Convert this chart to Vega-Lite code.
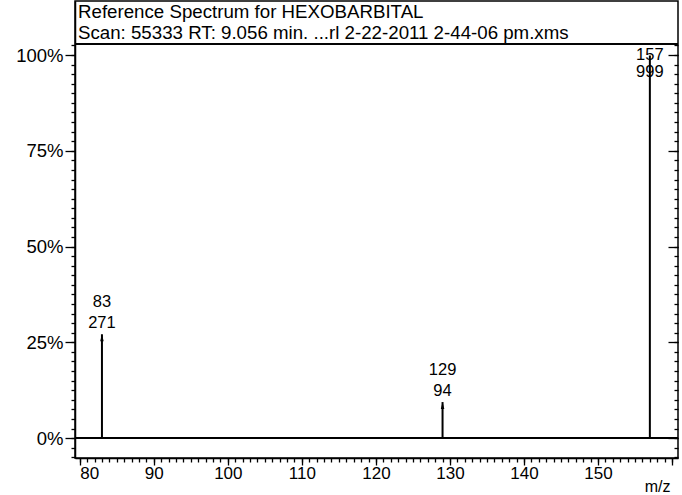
{
  "$schema": "https://vega.github.io/schema/vega-lite/v6.json",
  "width": 603,
  "height": 457,
  "autosize": {"type": "none"},
  "padding": {"left": 75, "top": 1, "right": 4, "bottom": 37},
  "background": "white",
  "config": {
    "font": "Liberation Sans",
    "view": {"stroke": "black", "strokeWidth": 1.5},
    "axis": {
      "domainColor": "black",
      "domainWidth": 1.5,
      "tickColor": "black",
      "tickWidth": 1.3,
      "labelColor": "black",
      "labelFont": "Liberation Sans",
      "titleFont": "Liberation Sans",
      "grid": false,
      "labelOverlap": false
    }
  },
  "data": {
    "values": [
      {"mz": 83, "abundance": 271},
      {"mz": 129, "abundance": 94},
      {"mz": 157, "abundance": 999}
    ]
  },
  "resolve": {
    "scale": {"x": "shared", "y": "shared"},
    "axis": {"x": "independent", "y": "independent"}
  },
  "layer": [
    {
      "mark": {"type": "rule", "color": "black", "strokeWidth": 2},
      "encoding": {
        "x": {
          "field": "mz",
          "type": "quantitative",
          "scale": {"domain": [79.36, 160.8], "nice": false, "zero": false},
          "axis": {
            "orient": "bottom",
            "values": [80, 90, 100, 110, 120, 130, 140, 150, 160],
            "format": "d",
            "labelExpr": "datum.value == 160 ? '' : datum.label",
            "tickSize": 7,
            "labelPadding": 0,
            "labelFontSize": 17,
            "labelFlush": 6,
            "title": "m/z",
            "titleFontSize": 16,
            "titleFontWeight": "normal",
            "titleColor": "black",
            "titleAnchor": "end",
            "titleAlign": "right",
            "titleBaseline": "alphabetic",
            "titleX": 595,
            "titleY": 33
          }
        },
        "y": {
          "field": "abundance",
          "type": "quantitative",
          "scale": {"domain": [-52, 1141], "nice": false, "zero": false},
          "axis": {
            "orient": "left",
            "values": [0, 250, 500, 750, 1000],
            "labelExpr": "(datum.value / 10) + '%'",
            "tickSize": 10,
            "labelPadding": 2,
            "labelFontSize": 18.5,
            "title": null
          }
        },
        "y2": {"datum": 0}
      }
    },
    {
      "mark": {"type": "rule", "color": "black", "strokeWidth": 2},
      "encoding": {
        "y": {
          "datum": 0,
          "type": "quantitative",
          "scale": {"domain": [-52, 1141], "nice": false, "zero": false},
          "axis": {
            "orient": "left",
            "values": [-50, -25, 0, 25, 50, 75, 100, 125, 150, 175, 200, 225, 250, 275, 300, 325, 350, 375, 400, 425, 450, 475, 500, 525, 550, 575, 600, 625, 650, 675, 700, 725, 750, 775, 800, 825, 850, 875, 900, 925, 950, 975, 1000, 1025],
            "tickSize": 4,
            "labels": false,
            "domain": false,
            "title": null
          }
        }
      }
    },
    {
      "mark": {"type": "rule", "color": "black", "strokeWidth": 1.5},
      "encoding": {
        "y": {
          "datum": 1029,
          "type": "quantitative",
          "scale": {"domain": [-52, 1141], "nice": false, "zero": false},
          "axis": {
            "orient": "right",
            "values": [-50, -25, 0, 25, 50, 75, 100, 125, 150, 175, 200, 225, 250, 275, 300, 325, 350, 375, 400, 425, 450, 475, 500, 525, 550, 575, 600, 625, 650, 675, 700, 725, 750, 775, 800, 825, 850, 875, 900, 925, 950, 975, 1000, 1025],
            "tickSize": -4,
            "labels": false,
            "domain": false,
            "title": null
          }
        }
      }
    },
    {
      "data": {"values": [{}]},
      "mark": {
        "type": "text",
        "text": ["Reference Spectrum for HEXOBARBITAL", "Scan: 55333 RT: 9.056 min. ...rl 2-22-2011 2-44-06 pm.xms"],
        "align": "left",
        "baseline": "alphabetic",
        "dx": 3,
        "fontSize": 18.7,
        "lineHeight": 21,
        "color": "black"
      },
      "encoding": {
        "x": {"datum": 79.36, "type": "quantitative", "scale": {"domain": [79.36, 160.8], "nice": false, "zero": false}, "axis": null},
        "y": {"datum": 1096, "type": "quantitative", "scale": {"domain": [-52, 1141], "nice": false, "zero": false}, "axis": null}
      }
    },
    {
      "transform": [{"filter": "datum.abundance < 900"}],
      "mark": {
        "type": "point",
        "shape": "M0,0L-0.5,2L0.5,2Z",
        "filled": true,
        "color": "black",
        "size": 49,
        "opacity": 1
      },
      "encoding": {
        "x": {
          "field": "mz",
          "type": "quantitative",
          "scale": {"domain": [79.36, 160.8], "nice": false, "zero": false},
          "axis": {
            "orient": "bottom",
            "values": [80, 81, 82, 83, 84, 85, 86, 87, 88, 89, 90, 91, 92, 93, 94, 95, 96, 97, 98, 99, 100, 101, 102, 103, 104, 105, 106, 107, 108, 109, 110, 111, 112, 113, 114, 115, 116, 117, 118, 119, 120, 121, 122, 123, 124, 125, 126, 127, 128, 129, 130, 131, 132, 133, 134, 135, 136, 137, 138, 139, 140, 141, 142, 143, 144, 145, 146, 147, 148, 149, 150, 151, 152, 153, 154, 155, 156, 157, 158, 159, 160],
            "tickSize": 4,
            "labels": false,
            "domain": false,
            "title": null
          }
        },
        "y": {
          "field": "abundance",
          "type": "quantitative",
          "scale": {"domain": [-52, 1141], "nice": false, "zero": false},
          "axis": {
            "orient": "right",
            "values": [0, 250, 500, 750, 1000],
            "tickSize": -10,
            "labels": false,
            "domain": false,
            "title": null
          }
        }
      }
    },
    {
      "transform": [{"filter": "datum.abundance < 900"}],
      "mark": {"type": "text", "align": "center", "baseline": "alphabetic", "dy": -27, "fontSize": 16.5, "color": "black"},
      "encoding": {
        "x": {"field": "mz", "type": "quantitative", "scale": {"domain": [79.36, 160.8], "nice": false, "zero": false}, "axis": null},
        "y": {"field": "abundance", "type": "quantitative", "scale": {"domain": [-52, 1141], "nice": false, "zero": false}, "axis": null},
        "text": {"field": "mz", "type": "quantitative"}
      }
    },
    {
      "transform": [{"filter": "datum.abundance < 900"}],
      "mark": {"type": "text", "align": "center", "baseline": "alphabetic", "dy": -6, "fontSize": 16.5, "color": "black"},
      "encoding": {
        "x": {"field": "mz", "type": "quantitative", "scale": {"domain": [79.36, 160.8], "nice": false, "zero": false}, "axis": null},
        "y": {"field": "abundance", "type": "quantitative", "scale": {"domain": [-52, 1141], "nice": false, "zero": false}, "axis": null},
        "text": {"field": "abundance", "type": "quantitative"}
      }
    },
    {
      "transform": [{"filter": "datum.abundance >= 900"}],
      "mark": {"type": "text", "align": "center", "baseline": "alphabetic", "dy": 5, "fontSize": 16.5, "color": "black"},
      "encoding": {
        "x": {"field": "mz", "type": "quantitative", "scale": {"domain": [79.36, 160.8], "nice": false, "zero": false}, "axis": null},
        "y": {"field": "abundance", "type": "quantitative", "scale": {"domain": [-52, 1141], "nice": false, "zero": false}, "axis": null},
        "text": {"field": "mz", "type": "quantitative"}
      }
    },
    {
      "transform": [{"filter": "datum.abundance >= 900"}],
      "mark": {"type": "text", "align": "center", "baseline": "alphabetic", "dy": 22, "fontSize": 16.5, "color": "black"},
      "encoding": {
        "x": {"field": "mz", "type": "quantitative", "scale": {"domain": [79.36, 160.8], "nice": false, "zero": false}, "axis": null},
        "y": {"field": "abundance", "type": "quantitative", "scale": {"domain": [-52, 1141], "nice": false, "zero": false}, "axis": null},
        "text": {"field": "abundance", "type": "quantitative"}
      }
    }
  ]
}
